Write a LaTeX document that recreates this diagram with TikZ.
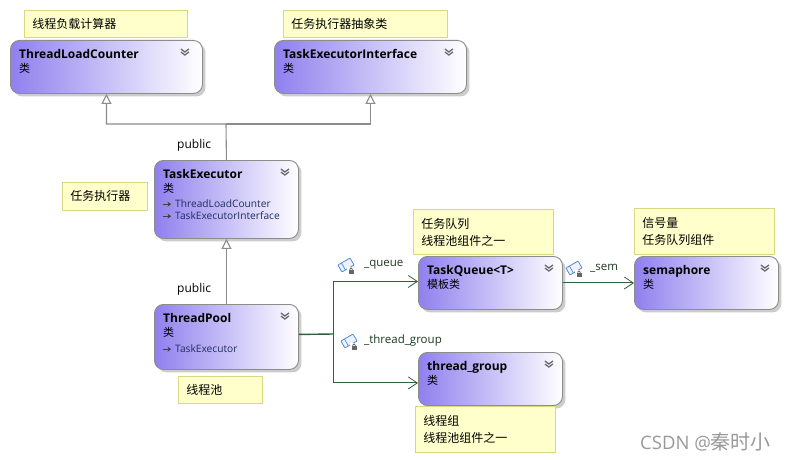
\documentclass[tikz,border=0pt]{standalone}
\usepackage{fontspec}
\setmainfont{Open Sans}
\newfontfamily\cjk{Noto Sans CJK SC}
\usetikzlibrary{positioning, calc, shadows, arrows.meta}
\usepackage{xcolor}
\definecolor{classblue}{HTML}{8F80EE}
\definecolor{noteyellow}{HTML}{FFFFCC}
\definecolor{noteline}{HTML}{D8D880}
\definecolor{fieldgreen}{HTML}{2F5F35}
\definecolor{inheritgray}{HTML}{8C8C8C}
\definecolor{membernavy}{HTML}{1F2F60}
\definecolor{iconblue}{HTML}{4F8FD0}
\tikzstyle{ClassBox} = [
draw=gray!90, line width=0.9pt,
rounded corners=9pt,
left color=classblue, right color=white,
minimum width=144pt, minimum height=53pt,
anchor=north west, inner sep=0pt,
drop shadow={shadow xshift=3pt, shadow yshift=-3pt, opacity=0.2, fill=black}]
\tikzstyle{Note} = [
draw=noteline, fill=noteyellow, line width=0.9pt,
anchor=north west, align=left, inner xsep=8pt, inner ysep=0pt,
font=\fontsize{12}{17}\selectfont\cjk]
\tikzstyle{ClassName} = [
inner sep=0pt, text height=9pt, text depth=3pt,
font=\fontsize{12}{14}\selectfont\bfseries]
\tikzstyle{ClassKind} = [
inner sep=0pt, text height=9pt, text depth=2pt,
font=\fontsize{11}{13}\selectfont\cjk]
\tikzstyle{Member} = [
inner sep=0pt, text height=8pt, text depth=2pt, text=membernavy,
font=\fontsize{10.2}{12}\selectfont]
\tikzstyle{EdgeLabel} = [
anchor=west, inner sep=0pt, text=fieldgreen!60!black,
font=\fontsize{11.5}{14}\selectfont]
\tikzstyle{Inherit} = [
draw=inheritgray, line width=1.1pt,
-{Triangle[open, fill=white, length=10pt, width=10pt]}]
\tikzstyle{Field} = [
draw=fieldgreen, line width=1pt,
-{Straight Barb[length=9pt, width=12pt, line width=0.8pt]}]
\tikzset{
chevrons/.pic={
    \draw[gray!85!black, line width=1.3pt] (-4,-3)--(0,0)--(4,-3) (-4,0)--(0,3)--(4,0);
},
memberarrow/.pic={
    \draw[black!75, line width=0.8pt, -{Stealth[length=3.5pt, width=5pt]}] (0,0)--(8,0);
},
fieldicon/.pic={
    \draw[iconblue, fill=blue!6, line width=0.8pt, rotate=30, rounded corners=0.8pt] (-7,-4) rectangle (7,4);
    \draw[iconblue, line width=0.7pt, rotate=30] (-3,-4)--(-3,4);
    \fill[white] (0.5,1.5) rectangle (9,9.5);
    \fill[black!60] (2.5,4.5) rectangle (7.5,9);
    \draw[black!60, line width=0.8pt] (3.5,4.5) arc[start angle=180, end angle=0, radius=1.5pt];
}}

\begin{document}
\begin{tikzpicture}[x=1pt, y=-1pt]
    \useasboundingbox[fill=white] (0,0) rectangle (787,460);

    \node[ClassBox, minimum width=192pt] (ThreadLoadCounter) at (10,40) {};
    \node[ClassBox, minimum width=192pt] (TaskExecutorInterface) at (274,40) {};
    \node[ClassBox, minimum height=78pt] (TaskExecutor) at (154,160) {};
    \node[ClassBox, minimum height=65pt] (ThreadPool) at (154,304) {};
    \node[ClassBox] (TaskQueue) at (418,256) {};
    \node[ClassBox] (semaphore) at (634,256) {};
    \node[ClassBox] (thread_group) at (418,352) {};

    \node[ClassName, below right=9pt and 9pt of ThreadLoadCounter.north west] (name1) {ThreadLoadCounter};
    \node[ClassKind, below right=23pt and 9pt of ThreadLoadCounter.north west] (kind1) {类};
    \node[ClassName, below right=9pt and 9pt of TaskExecutorInterface.north west] (name2) {TaskExecutorInterface};
    \node[ClassKind, below right=23pt and 9pt of TaskExecutorInterface.north west] (kind2) {类};
    \node[ClassName, below right=9pt and 9pt of TaskExecutor.north west] (name3) {TaskExecutor};
    \node[ClassKind, below right=23pt and 9pt of TaskExecutor.north west] (kind3) {类};
    \node[Member, below right=39pt and 21pt of TaskExecutor.north west] (member1) {ThreadLoadCounter};
    \node[Member, below right=51pt and 21pt of TaskExecutor.north west] (member2) {TaskExecutorInterface};
    \node[ClassName, below right=9pt and 9pt of ThreadPool.north west] (name4) {ThreadPool};
    \node[ClassKind, below right=23pt and 9pt of ThreadPool.north west] (kind4) {类};
    \node[Member, below right=40pt and 21pt of ThreadPool.north west] (member3) {TaskExecutor};
    \node[ClassName, below right=9pt and 9pt of TaskQueue.north west] (name5) {TaskQueue<T>};
    \node[ClassKind, below right=23pt and 9pt of TaskQueue.north west] (kind5) {模板类};
    \node[ClassName, below right=9pt and 9pt of semaphore.north west] (name6) {semaphore};
    \node[ClassKind, below right=23pt and 9pt of semaphore.north west] (kind6) {类};
    \node[ClassName, below right=9pt and 9pt of thread_group.north west] (name7) {thread\_group};
    \node[ClassKind, below right=23pt and 9pt of thread_group.north west] (kind7) {类};

    \pic at ([xshift=-18pt, yshift=-12pt]ThreadLoadCounter.north east) {chevrons};
    \pic at ([xshift=-18pt, yshift=-12pt]TaskExecutorInterface.north east) {chevrons};
    \pic at ([xshift=-14pt, yshift=-12pt]TaskExecutor.north east) {chevrons};
    \pic at ([xshift=-14pt, yshift=-12pt]ThreadPool.north east) {chevrons};
    \pic at ([xshift=-14pt, yshift=-12pt]TaskQueue.north east) {chevrons};
    \pic at ([xshift=-14pt, yshift=-12pt]semaphore.north east) {chevrons};
    \pic at ([xshift=-14pt, yshift=-12pt]thread_group.north east) {chevrons};
    \pic at ([xshift=-12pt]member1.west) {memberarrow};
    \pic at ([xshift=-12pt]member2.west) {memberarrow};
    \pic at ([xshift=-12pt]member3.west) {memberarrow};

    \node[Note, minimum height=27pt, text width=147pt] (note1) at (24,10) {线程负载计算器};
    \node[Note, minimum height=27pt, text width=148pt] (note2) at (283,10) {任务执行器抽象类};
    \node[Note, minimum height=28pt, text width=69pt] (note3) at (62,182) {任务执行器};
    \node[Note, minimum height=27pt, text width=68pt] (note4) at (178,376) {线程池};
    \node[Note, minimum height=45pt, text width=124pt] (note5) at (413,209) {任务队列\\线程池组件之一};
    \node[Note, minimum height=46pt, text width=124pt] (note6) at (634,208) {信号量\\任务队列组件};
    \node[Note, minimum height=46pt, text width=124pt] (note7) at (415,406) {线程组\\线程池组件之一};

    \coordinate (busjoin) at (226,124);
    \coordinate (fieldjoin) at (333,334);
    \draw[Inherit] (TaskExecutor.north) -- (busjoin) -| (ThreadLoadCounter.south);
    \draw[Inherit] (busjoin) -| (TaskExecutorInterface.south);
    \draw[Inherit] (ThreadPool.north) -- (TaskExecutor.south);
    \draw[draw=fieldgreen, line width=1.4pt] ([yshift=2.5pt]ThreadPool.east) -- (fieldjoin);
    \draw[Field] (fieldjoin) |- ([yshift=1.5pt]TaskQueue.west);
    \draw[Field] (fieldjoin) |- ([yshift=-4pt]thread_group.west);
    \draw[Field] (TaskQueue.east) -- (semaphore.west);

    \node[anchor=west, inner sep=0pt, font=\fontsize{12}{14}\selectfont] (public1) at (177,145) {public};
    \node[anchor=west, inner sep=0pt, font=\fontsize{12}{14}\selectfont] (public2) at (177,289) {public};
    \node[EdgeLabel] (queue) at (364,265) {\_queue};
    \node[EdgeLabel] (threadgroup) at (364,341) {\_thread\_group};
    \node[EdgeLabel] (sem) at (590,268) {\_sem};
    \pic at ([xshift=-18pt]queue.west) {fieldicon};
    \pic at ([xshift=-15pt]threadgroup.west) {fieldicon};
    \pic at ([xshift=-16pt]sem.west) {fieldicon};

    \node[anchor=west, inner sep=0pt, text=gray!80, font=\fontsize{18.5}{22}\selectfont] (mark) at (640,442) {CSDN @{\cjk\fontsize{20}{22}\selectfont 秦时小}};
\end{tikzpicture}
\end{document}
